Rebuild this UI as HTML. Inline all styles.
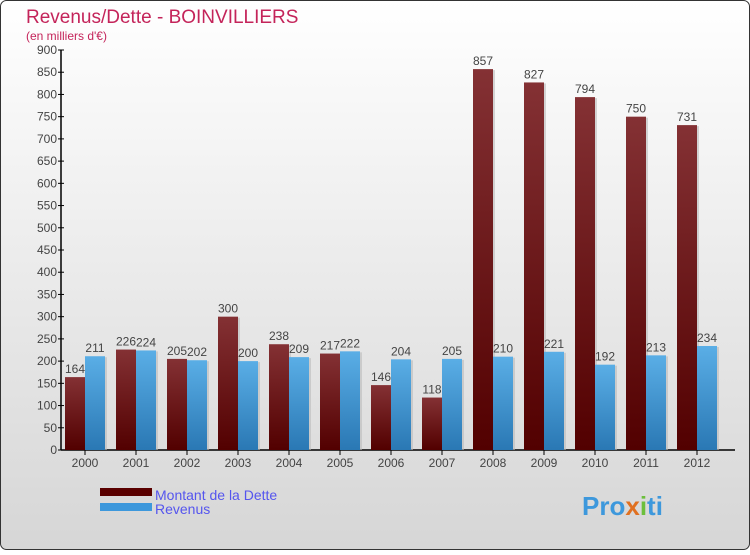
<!DOCTYPE html>
<html><head><meta charset="utf-8"><style>
body{margin:0;width:750px;height:550px;overflow:hidden;font-family:"Liberation Sans",sans-serif}
</style></head><body>
<svg width="750" height="550" xmlns="http://www.w3.org/2000/svg">
<defs>
<linearGradient id="bg" x1="0" y1="0" x2="0" y2="1"><stop offset="0" stop-color="#ffffff"/><stop offset="1" stop-color="#d6d6d6"/></linearGradient>
<linearGradient id="gd" x1="0" y1="0" x2="0" y2="1"><stop offset="0" stop-color="#843134"/><stop offset="1" stop-color="#520000"/></linearGradient>
<linearGradient id="gr" x1="0" y1="0" x2="0" y2="1"><stop offset="0" stop-color="#5aaee6"/><stop offset="1" stop-color="#2a78b4"/></linearGradient>
</defs>
<rect x="0.5" y="0.5" width="749" height="549" rx="6" fill="url(#bg)" stroke="#333"/>
<text x="26" y="23" font-size="19" fill="#c4245a">Revenus/Dette - BOINVILLIERS</text>
<text x="26" y="40" font-size="12" fill="#c4245a">(en milliers d'€)</text>
<g id="axes"></g>
<g id="bars"></g>
<g>
<rect x="100" y="488" width="52" height="8" fill="#5a0000"/>
<text x="155" y="500" font-size="14" fill="#5555ee">Montant de la Dette</text>
<rect x="100" y="503" width="52" height="8" fill="#3d98dc"/>
<text x="155" y="514" font-size="14" fill="#5555ee">Revenus</text>
</g>
<text x="582" y="515" font-size="26" font-weight="bold" fill="#3d98dc">Pro<tspan fill="#e07020">x</tspan><tspan fill="#6cbf3c">i</tspan><tspan fill="#3d98dc">ti</tspan></text>
</svg>
<script>
const years=["2000","2001","2002","2003","2004","2005","2006","2007","2008","2009","2010","2011","2012"];
const dette=[164,226,205,300,238,217,146,118,857,827,794,750,731];
const revenus=[211,224,202,200,209,222,204,205,210,221,192,213,234];
const ticks=[0,50,100,150,200,250,300,350,400,450,500,550,600,650,700,750,800,850,900];
const NS="http://www.w3.org/2000/svg";
const y=v=>450-v*400/900;
const gx=i=>65+51*i;
function mk(t,a,p){const e=document.createElementNS(NS,t);for(const k in a)e.setAttribute(k,a[k]);p.appendChild(e);return e;}
const ax=document.getElementById('axes'),bs=document.getElementById('bars');
let l=mk('line',{x1:61,y1:50,x2:61,y2:450,stroke:'#000','stroke-width':1.5},ax);


l=mk('line',{x1:61,y1:450,x2:735,y2:450,stroke:'#000','stroke-width':1.5},ax);


ticks.forEach(t=>{
 mk('line',{x1:58,y1:y(t),x2:64,y2:y(t),stroke:'#000'},ax);
 const tx=mk('text',{x:57,y:y(t)+4,'font-size':12,fill:'#444','text-anchor':'end'},ax);tx.textContent=t;
 
 
});
years.forEach((yr,i)=>{
 const x=gx(i);
 mk('line',{x1:x+20,y1:450,x2:x+20,y2:455,stroke:'#000'},ax);
 const tx=mk('text',{x:x+20,y:467,'font-size':12,fill:'#444','text-anchor':'middle'},ax);tx.textContent=yr;
 
 
 [[dette[i],'url(#gd)',x,'dette'],[revenus[i],'url(#gr)',x+20,'revenus']].forEach(([v,f,bx,n])=>{
  mk('rect',{x:bx+2,y:y(v)+1,width:20,height:450-y(v)-1,fill:'#bbb',opacity:0.6},bs);
  const r=mk('rect',{x:bx,y:y(v),width:20,height:450-y(v),fill:f},bs);
  
  
  const t=mk('text',{x:bx+10,y:y(v)-4,'font-size':12,fill:'#444','text-anchor':'middle'},bs);t.textContent=v;
  
  
 });
});
</script>
</body></html>
